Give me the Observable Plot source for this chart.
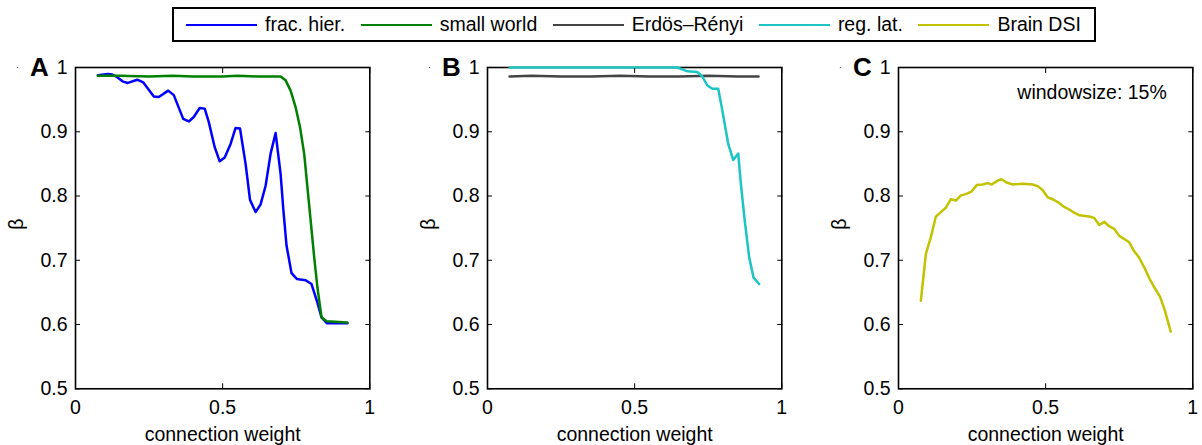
<!DOCTYPE html>
<html><head><meta charset="utf-8">
<script src="https://cdn.jsdelivr.net/npm/d3@7"></script>
<script src="https://cdn.jsdelivr.net/npm/@observablehq/plot@0.6"></script>
<style>
html,body{margin:0;padding:0;background:#fff;}
#root{position:relative;width:1202px;height:445px;font-family:"Liberation Sans",Arial,Helvetica,sans-serif;overflow:hidden;background:#fff;}
#legend{position:absolute;left:172px;top:7px;height:35px;box-sizing:border-box;border:2px solid #000;display:flex;align-items:center;padding:0 13px 0 12px;font-size:19.5px;color:#000;background:#fff;}
.item{display:flex;align-items:center;margin-right:15.5px;white-space:nowrap;}
.item:last-child{margin-right:0;}
.swatch{width:71px;height:0;border-top:2.5px solid;margin-right:8px;}
.panel{position:absolute;top:50px;}
</style></head><body><div id="root"><div id="legend"></div></div>
<script>
// ---- data ----
const seriesNames = ["frac. hier.", "small world", "Erdös–Rényi", "reg. lat.", "Brain DSI"];
const seriesColors = ["#0000ff", "#008000", "#444444", "#1cc4c4", "#c2c200"];
const xTicks = [0, 0.5, 1];
const yTicks = [0.5, 0.6, 0.7, 0.8, 0.9, 1];
const panelLetters = ["A", "B", "C"];
const noteC = "windowsize: 15%";

const fracHier = [[0.076,0.988],[0.110,0.990],[0.125,0.989],[0.142,0.985],[0.162,0.978],[0.178,0.976],[0.210,0.981],[0.230,0.977],[0.266,0.955],[0.283,0.954],[0.315,0.964],[0.334,0.957],[0.366,0.920],[0.385,0.916],[0.402,0.923],[0.422,0.937],[0.439,0.936],[0.453,0.915],[0.473,0.876],[0.490,0.854],[0.507,0.860],[0.527,0.881],[0.544,0.906],[0.559,0.905],[0.578,0.850],[0.593,0.794],[0.612,0.775],[0.629,0.787],[0.646,0.816],[0.663,0.866],[0.680,0.898],[0.697,0.834],[0.706,0.780],[0.717,0.723],[0.734,0.680],[0.752,0.671],[0.782,0.669],[0.802,0.663],[0.820,0.637],[0.836,0.611],[0.854,0.602],[0.924,0.602]];
const smallWorld = [[0.076,0.987],[0.15,0.987],[0.25,0.986],[0.33,0.987],[0.40,0.986],[0.50,0.986],[0.55,0.987],[0.62,0.986],[0.697,0.986],[0.714,0.980],[0.731,0.964],[0.748,0.938],[0.763,0.907],[0.777,0.866],[0.788,0.814],[0.799,0.762],[0.811,0.705],[0.822,0.658],[0.836,0.611],[0.854,0.605],[0.924,0.603]];
const erdosRenyi = [[0.075,0.986],[0.15,0.987],[0.25,0.986],[0.35,0.986],[0.45,0.987],[0.55,0.986],[0.65,0.986],[0.75,0.987],[0.85,0.986],[0.921,0.986]];
const regLat = [[0.075,1.0],[0.3,1.0],[0.5,1.0],[0.645,1.0],[0.662,0.997],[0.679,0.994],[0.713,0.993],[0.730,0.986],[0.747,0.972],[0.764,0.967],[0.784,0.967],[0.798,0.933],[0.818,0.881],[0.835,0.856],[0.852,0.866],[0.861,0.819],[0.874,0.762],[0.889,0.705],[0.904,0.673],[0.923,0.663]];
const brainDSI = [[0.076,0.637],[0.093,0.710],[0.110,0.736],[0.127,0.768],[0.144,0.775],[0.161,0.782],[0.178,0.795],[0.195,0.793],[0.212,0.801],[0.229,0.803],[0.248,0.807],[0.266,0.817],[0.286,0.818],[0.303,0.820],[0.317,0.818],[0.337,0.824],[0.350,0.826],[0.367,0.821],[0.388,0.818],[0.422,0.819],[0.456,0.818],[0.475,0.815],[0.490,0.809],[0.507,0.798],[0.524,0.795],[0.543,0.790],[0.563,0.783],[0.580,0.779],[0.597,0.774],[0.615,0.770],[0.648,0.768],[0.665,0.766],[0.682,0.755],[0.699,0.760],[0.716,0.753],[0.733,0.749],[0.750,0.738],[0.767,0.733],[0.784,0.728],[0.801,0.714],[0.818,0.704],[0.835,0.689],[0.852,0.672],[0.869,0.658],[0.889,0.643],[0.905,0.622],[0.925,0.589]];

const seriesData = [fracHier, smallWorld, erdosRenyi, regLat, brainDSI];
const panelSeries = [[0, 1], [2, 3], [4]];

// ---- legend ----
const legend = document.getElementById("legend");
seriesNames.forEach((name, i) => {
  const item = document.createElement("div");
  item.className = "item";
  const sw = document.createElement("span");
  sw.className = "swatch";
  sw.style.borderTopColor = seriesColors[i];
  const t = document.createElement("span");
  t.textContent = name;
  item.appendChild(sw); item.appendChild(t);
  legend.appendChild(item);
});

// ---- panels ----
const FONT = '"Liberation Sans", Arial, Helvetica, sans-serif';
const mL = 75, mR = 9, mT = 17, mB = 56.7, innerW = 294.3, H = 395;
const panelLefts = [0, 411.7, 822.7];

panelLetters.forEach((letter, p) => {
  const marks = [Plot.frame({stroke: "#000", strokeWidth: 1.6})];
  panelSeries[p].forEach(si => {
    marks.push(Plot.line(seriesData[si], {x: d => d[0], y: d => d[1], stroke: seriesColors[si], strokeWidth: 2.5, strokeLinejoin: "round"}));
  });
  marks.push(
    Plot.axisX({ticks: xTicks, anchor: "bottom", tickSize: -5, tickPadding: 16, tickFormat: d => String(d), label: null, stroke: "#000"}),
    Plot.axisX({ticks: xTicks, anchor: "top", tickSize: -5, tickFormat: () => "", label: null, stroke: "#000"}),
    Plot.axisY({ticks: yTicks, anchor: "left", tickSize: -5, tickPadding: 13, tickFormat: d => String(d), label: null, stroke: "#000"}),
    Plot.axisY({ticks: yTicks, anchor: "right", tickSize: -5, tickFormat: () => "", label: null, stroke: "#000"}),
    Plot.text([letter], {text: d => d, frameAnchor: "top-left", textAnchor: "end", lineAnchor: "bottom", dx: -26.7, dy: 8.5, fontSize: 26, fontWeight: "bold"}),
    Plot.text(["."], {text: d => d, frameAnchor: "top-left", textAnchor: "middle", lineAnchor: "bottom", dx: -58, dy: 1, fontSize: 9}),
    Plot.text(["β"], {text: d => d, frameAnchor: "left", rotate: -90, lineAnchor: "bottom", textAnchor: "middle", dx: -52.5, dy: -4}),
    Plot.text(["connection weight"], {text: d => d, frameAnchor: "bottom", lineAnchor: "bottom", dy: 52})
  );
  if (p === 2) {
    marks.push(Plot.text([noteC], {text: d => d, frameAnchor: "top-right", textAnchor: "end", lineAnchor: "bottom", dx: -26, dy: 32}));
  }
  const svg = Plot.plot({
    width: mL + innerW + mR, height: H,
    marginLeft: mL, marginRight: mR, marginTop: mT, marginBottom: mB,
    x: {domain: [0, 1]}, y: {domain: [0.5, 1]},
    style: {fontSize: "19.5px", fontFamily: FONT, color: "#000", background: "transparent", overflow: "visible"},
    marks
  });
  svg.classList.add("panel");
  svg.style.position = "absolute";
  svg.style.left = panelLefts[p] + "px";
  svg.style.top = "50px";
  document.getElementById("root").appendChild(svg);
});
</script>
</body></html>
